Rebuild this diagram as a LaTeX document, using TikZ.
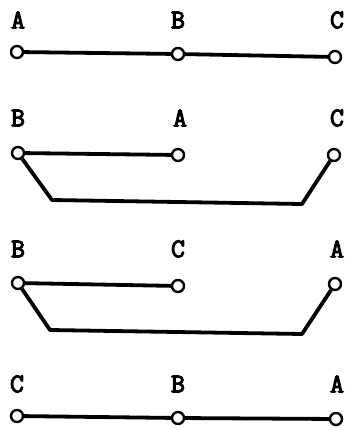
\documentclass[tikz,border=0pt]{standalone}
\usepackage{fontspec}
\newfontfamily\tagfont[FakeBold=4]{Latin Modern Mono}
\usetikzlibrary{positioning}

\begin{document}
\begin{tikzpicture}[x=1pt,y=-1pt]
	\tikzset{
		terminal/.style={circle, draw, fill=white, line width=2.4pt, minimum size=12pt, inner sep=0pt},
		lead/.style={line width=3.8pt, line join=round},
		tag/.style={font=\tagfont\bfseries\fontsize{27}{27}\selectfont, inner sep=0pt}
	}
	\useasboundingbox (0,0) rectangle (346,428);
	% row 1: A B C
	\node[terminal] (a1) at (17,52) {};
	\node[terminal] (b1) at (178,54) {};
	\node[terminal] (c1) at (335,57) {};
	\node[tag] (ta1) at (18,20) {A};
	\node[tag] (tb1) at (178,20) {B};
	\node[tag] (tc1) at (337,20) {C};
	\draw[lead] (a1) -- (b1) -- (c1);
	% row 2: B A C
	\node[terminal] (b2) at (18,153) {};
	\node[terminal] (a2) at (178,155) {};
	\node[terminal] (c2) at (334,155) {};
	\node[tag] (tb2) at (18,118) {B};
	\node[tag] (ta2) at (180,118) {A};
	\node[tag] (tc2) at (337,118) {C};
	\coordinate (l2) at (52,200);
	\coordinate (r2) at (302,204);
	\draw[lead] (b2) -- (a2);
	\draw[lead] (b2) -- (l2) -- (r2) -- (c2);
	% row 3: B C A
	\node[terminal] (b3) at (18,283) {};
	\node[terminal] (c3) at (178,286) {};
	\node[terminal] (a3) at (335,284) {};
	\node[tag] (tb3) at (18,249) {B};
	\node[tag] (tc3) at (178,249) {C};
	\node[tag] (ta3) at (337,249) {A};
	\coordinate (l3) at (50,330);
	\coordinate (r3) at (302,334);
	\draw[lead] (b3) -- (c3);
	\draw[lead] (b3) -- (l3) -- (r3) -- (a3);
	% row 4: C B A
	\node[terminal] (c4) at (17,416) {};
	\node[terminal] (b4) at (178,418) {};
	\node[terminal] (a4) at (336,419) {};
	\node[tag] (tc4) at (17,384) {C};
	\node[tag] (tb4) at (178,384) {B};
	\node[tag] (ta4) at (337,384) {A};
	\draw[lead] (c4) -- (b4) -- (a4);
\end{tikzpicture}
\end{document}
